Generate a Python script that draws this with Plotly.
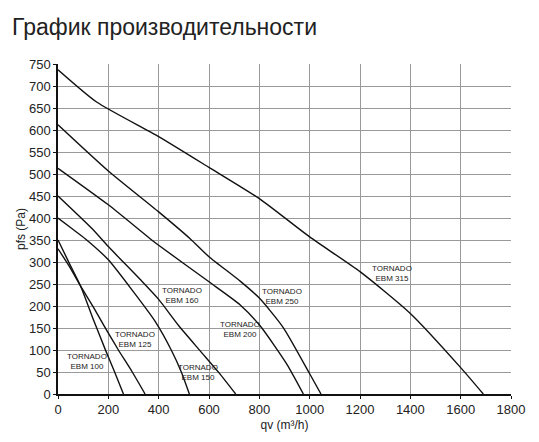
import plotly.graph_objects as go

# ---- data ----
ebm100_q = [0, 45, 90, 140, 190, 225, 260]
ebm100_p = [350, 297, 245, 170, 98, 50, 0]

ebm125_q = [0, 45, 90, 140, 190, 240, 295, 346]
ebm125_p = [330, 290, 245, 198, 148, 100, 50, 0]

ebm150_q = [0, 55, 108, 200, 300, 386, 450, 490, 522]
ebm150_p = [400, 376, 353, 305, 232, 165, 100, 50, 0]

ebm160_q = [0, 135, 200, 327, 400, 480, 565, 640, 706]
ebm160_p = [450, 376, 335, 260, 215, 155, 98, 48, 0]

ebm200_q = [0, 200, 366, 400, 600, 723, 803, 909, 975]
ebm200_p = [513, 430, 353, 338, 255, 203, 155, 68, 0]

ebm250_q = [0, 200, 400, 525, 600, 725, 800, 895, 1000, 1045]
ebm250_p = [612, 507, 414, 353, 312, 256, 218, 151, 46, 0]

ebm315_q = [0, 155, 400, 600, 800, 1000, 1200, 1400, 1600, 1690]
ebm315_p = [737, 663, 585, 515, 444, 357, 278, 183, 60, 0]

series = [
    ("EBM 100", ebm100_q, ebm100_p),
    ("EBM 125", ebm125_q, ebm125_p),
    ("EBM 150", ebm150_q, ebm150_p),
    ("EBM 160", ebm160_q, ebm160_p),
    ("EBM 200", ebm200_q, ebm200_p),
    ("EBM 250", ebm250_q, ebm250_p),
    ("EBM 315", ebm315_q, ebm315_p),
]

label_names = ["EBM 100", "EBM 125", "EBM 150", "EBM 160", "EBM 200", "EBM 250", "EBM 315"]
label_q = [114, 305, 556, 493, 722, 892, 1329]
label_p = [75, 123, 50, 224, 147, 222, 273]

title_text = "График производительности"
x_title = "qv (m³/h)"
y_title = "pfs (Pa)"

fig = go.Figure()
for name, q, p in series:
    fig.add_trace(go.Scatter(x=q, y=p, mode="lines", name=name,
                             line=dict(color="#111111", width=1.4, shape="spline", smoothing=0.6),
                             showlegend=False, hoverinfo="skip"))

for name, q, p in zip(label_names, label_q, label_p):
    fig.add_annotation(x=q, y=p, xref="x", yref="y",
                       text="TORNADO<br>" + name, showarrow=False,
                       font=dict(family="Liberation Sans, Arial", size=8, color="#222222"),
                       align="center", xanchor="center", yanchor="middle")

fig.update_layout(
    width=539, height=442,
    margin=dict(l=58, r=28, t=64, b=45),
    paper_bgcolor="white", plot_bgcolor="white",
    title=dict(text=title_text, xref="container", yref="container",
               x=12 / 539, xanchor="left", y=1 - 27 / 442, yanchor="middle",
               font=dict(family="Liberation Sans, Arial", size=23, color="#222222")),
    font=dict(family="Liberation Sans, Arial", color="#222222"),
)

fig.update_xaxes(range=[0, 1800], tick0=0, dtick=200,
                 showgrid=True, gridcolor="#9a9a9a", gridwidth=1,
                 showline=True, linecolor="#111111", linewidth=1.5,
                 ticks="outside", ticklen=3, tickcolor="#111111",
                 tickfont=dict(size=13, color="#222222"),
                 title=dict(text=x_title, font=dict(size=12, color="#222222"), standoff=4),
                 zeroline=False, fixedrange=True)
fig.update_yaxes(range=[0, 750], tick0=0, dtick=50,
                 showgrid=True, gridcolor="#9a9a9a", gridwidth=1,
                 showline=True, linecolor="#111111", linewidth=1.5,
                 ticks="outside", ticklen=3, tickcolor="#111111",
                 tickfont=dict(size=13, color="#222222"),
                 title=dict(text=y_title, font=dict(size=12, color="#222222"), standoff=1),
                 zeroline=False, fixedrange=True)

fig.write_html("out.html")
